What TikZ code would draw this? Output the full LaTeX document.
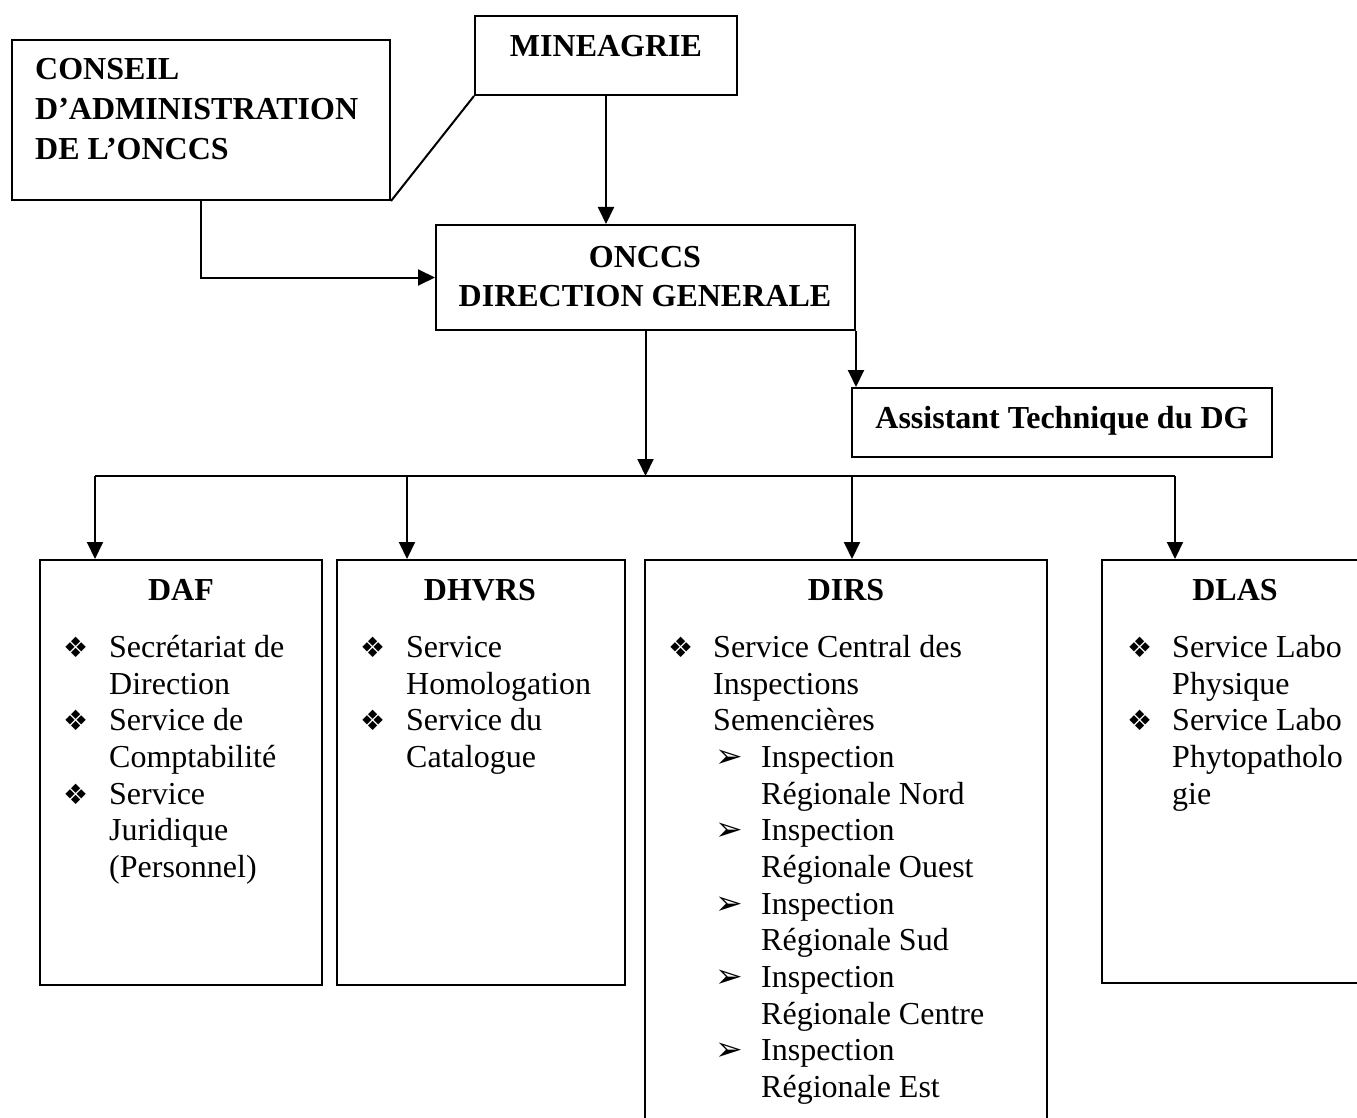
\documentclass[tikz,border=0pt]{standalone}
\usepackage{fontspec}
\setmainfont{Liberation Serif}
\newfontfamily\symfont{DejaVu Sans}
\usetikzlibrary{arrows.meta}
\begin{document}
\begin{tikzpicture}[x=1pt,y=-1pt,
  box/.style={draw, line width=2pt, inner sep=0pt},
  conn/.style={line width=2pt},
  arr/.style={conn, -{Triangle[length=17pt,width=16pt]}},
  bt/.style={font=\fontsize{32}{40}\selectfont\bfseries, inner sep=0pt},
  tx/.style={font=\fontsize{32}{37}\selectfont, inner sep=0pt, anchor=base west},
  bul/.style={font=\symfont\fontsize{28}{28}\selectfont, inner sep=0pt, anchor=base west},
  subbul/.style={font=\symfont\fontsize{33}{33}\selectfont, inner sep=0pt, anchor=base west},
]
\useasboundingbox (0,0) rectangle (1357,1118);
\clip (0,0) rectangle (1357,1118);

% boxes
\node[box, minimum width=378pt, minimum height=160pt] (cons) at (201,120) {};
\node[box, minimum width=262pt, minimum height=79pt] (mine) at (606,55.5) {};
\node[box, minimum width=419pt, minimum height=105pt] (dg) at (645.5,277.5) {};
\node[box, minimum width=420pt, minimum height=69pt] (asst) at (1062,422.5) {};
\node[box, minimum width=282pt, minimum height=425pt] (daf) at (181,772.5) {};
\node[box, minimum width=288pt, minimum height=425pt] (dhvrs) at (481,772.5) {};
\node[box, minimum width=402pt, minimum height=580pt] (dirs) at (846,850) {};
\node[box, minimum width=278pt, minimum height=423pt] (dlas) at (1241,771.5) {};

% header texts
\node[bt, anchor=base west] (c1) at (35,80) {CONSEIL};
\node[bt, anchor=base west] (c2) at (35,120) {D’ADMINISTRATION};
\node[bt, anchor=base west] (c3) at (35,160) {DE L’ONCCS};
\node[bt, anchor=base] (m1) at (606,57) {MINEAGRIE};
\node[bt, anchor=base] (d1) at (645,267) {ONCCS};
\node[bt, anchor=base] (d2) at (645,306) {DIRECTION GENERALE};
\node[bt, anchor=base] (a1) at (1062,428) {Assistant Technique du DG};

\node[bt, anchor=base] (tdaf) at (181,600) {DAF};
\node[bt, anchor=base] (tdhvrs) at (480,600) {DHVRS};
\node[bt, anchor=base] (tdirs) at (846,600) {DIRS};
\node[bt, anchor=base] (tdlas) at (1235,600) {DLAS};

% DAF items
\node[bul] (daf-b1) at (63,657) {❖};
\node[tx] (daf-l1) at (109,657) {Secrétariat de};
\node[tx] (daf-l2) at (109,694) {Direction};
\node[bul] (daf-b2) at (63,730) {❖};
\node[tx] (daf-l3) at (109,730) {Service de};
\node[tx] (daf-l4) at (109,767) {Comptabilité};
\node[bul] (daf-b3) at (63,804) {❖};
\node[tx] (daf-l5) at (109,804) {Service};
\node[tx] (daf-l6) at (109,840) {Juridique};
\node[tx] (daf-l7) at (109,877) {(Personnel)};

% DHVRS items
\node[bul] (dh-b1) at (360,657) {❖};
\node[tx] (dh-l1) at (406,657) {Service};
\node[tx] (dh-l2) at (406,694) {Homologation};
\node[bul] (dh-b2) at (360,730) {❖};
\node[tx] (dh-l3) at (406,730) {Service du};
\node[tx] (dh-l4) at (406,767) {Catalogue};

% DIRS items
\node[bul] (di-b1) at (668,657) {❖};
\node[tx] (di-l1) at (713,657) {Service Central des};
\node[tx] (di-l2) at (713,694) {Inspections};
\node[tx] (di-l3) at (713,730) {Semencières};
\node[subbul] (di-b2) at (715,767) {➢};
\node[tx] (di-l4) at (761,767) {Inspection};
\node[tx] (di-l5) at (761,804) {Régionale Nord};
\node[subbul] (di-b3) at (715,840) {➢};
\node[tx] (di-l6) at (761,840) {Inspection};
\node[tx] (di-l7) at (761,877) {Régionale Ouest};
\node[subbul] (di-b4) at (715,914) {➢};
\node[tx] (di-l8) at (761,914) {Inspection};
\node[tx] (di-l9) at (761,950) {Régionale Sud};
\node[subbul] (di-b5) at (715,987) {➢};
\node[tx] (di-l10) at (761,987) {Inspection};
\node[tx] (di-l11) at (761,1024) {Régionale Centre};
\node[subbul] (di-b6) at (715,1060) {➢};
\node[tx] (di-l12) at (761,1060) {Inspection};
\node[tx] (di-l13) at (761,1097) {Régionale Est};

% DLAS items
\node[bul] (dl-b1) at (1127,657) {❖};
\node[tx] (dl-l1) at (1172,657) {Service Labo};
\node[tx] (dl-l2) at (1172,694) {Physique};
\node[bul] (dl-b2) at (1127,730) {❖};
\node[tx] (dl-l3) at (1172,730) {Service Labo};
\node[tx] (dl-l4) at (1172,767) {Phytopatholo};
\node[tx] (dl-l5) at (1172,804) {gie};

% connectors
\coordinate (b1) at (95,476);
\coordinate (b2) at (407,476);
\coordinate (b3) at (852,476);
\coordinate (b4) at (1175,476);

\draw[conn] (cons.south east) -- (mine.south west);
\draw[arr] (mine.south) -- (mine.south |- dg.north);
\draw[arr] (cons.south) |- (dg.west);
\draw[arr] (dg.south) -- (dg.south |- b1);
\draw[arr] (dg.south east) -- (dg.south east |- asst.north);
\draw[conn] (b1) -- (b4);
\draw[arr] (b1) -- (b1 |- daf.north);
\draw[arr] (b2) -- (b2 |- dhvrs.north);
\draw[arr] (b3) -- (b3 |- dirs.north);
\draw[arr] (b4) -- (b4 |- dlas.north);
\end{tikzpicture}
\end{document}
